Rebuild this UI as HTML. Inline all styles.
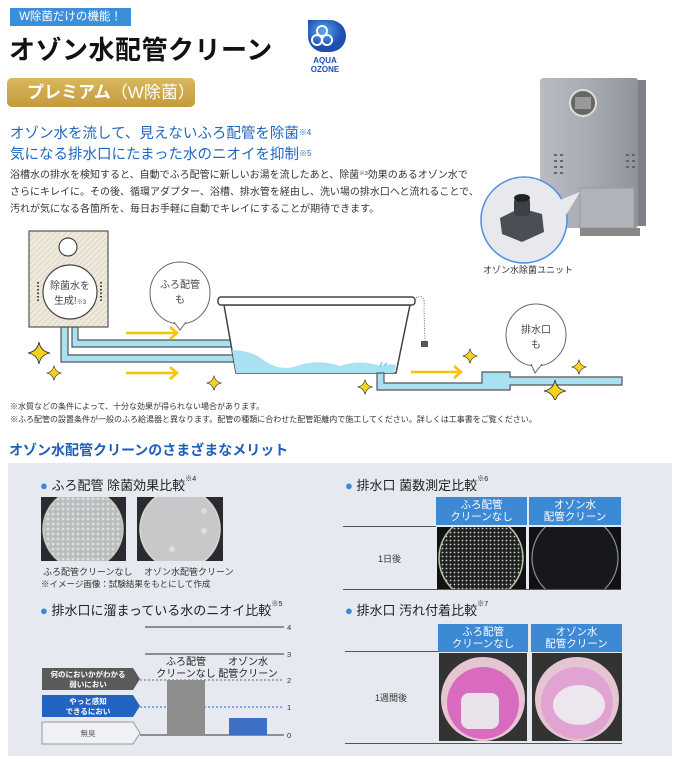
<!DOCTYPE html>
<html><head><meta charset="utf-8">
<style>
*{margin:0;padding:0;box-sizing:border-box}
body{width:680px;height:762px;background:#fff;position:relative;overflow:hidden;font-family:"Liberation Sans","Noto Sans CJK JP",sans-serif;color:#333}
.a{position:absolute;white-space:nowrap}
sup{font-size:0.55em;vertical-align:top;position:relative;top:-0.2em}
.hd{background:#3d89d3;color:#fff;font-size:10.5px;line-height:12px;text-align:center;display:flex;align-items:center;justify-content:center}
.dot{color:#3d89d3}
</style></head><body>
<div class="a" style="left:10px;top:8px;width:121px;height:18px;background:#3b8ed8;color:#fff;font-size:11.5px;line-height:18px;text-align:center">W除菌だけの機能！</div>
<div class="a" style="left:9px;top:30px;font-size:26px;font-weight:bold;color:#111;letter-spacing:0.5px">オゾン水配管クリーン</div>
<svg class="a" style="left:300px;top:16px" width="50" height="56">
<defs><radialGradient id="lg" cx="40%" cy="35%"><stop offset="0" stop-color="#5aa8f0"/><stop offset="1" stop-color="#1d4fb0"/></radialGradient></defs>
<path d="M8 4 H30 A16 16 0 0 1 30 36 H22 A16 16 0 0 1 8 20 Z" fill="url(#lg)"/>
<g fill="none" stroke="#fff" stroke-width="2"><circle cx="22" cy="15" r="5"/><circle cx="17" cy="24" r="5"/><circle cx="27" cy="24" r="5"/></g>
<text x="25" y="47" font-size="8" font-weight="bold" fill="#1d4fb0" text-anchor="middle" font-family="Liberation Sans">AQUA</text>
<text x="25" y="56" font-size="8" font-weight="bold" fill="#1d4fb0" text-anchor="middle" font-family="Liberation Sans">OZONE</text>
</svg>
<div class="a" style="left:7px;top:78px;width:188px;height:29px;border-radius:5px;background:linear-gradient(#d9b85e,#c49a3a);color:#fff;font-size:17px;font-weight:bold;line-height:29px;padding-left:20px">プレミアム<span style="font-weight:normal">（W除菌）</span></div>
<div class="a" style="left:10px;top:124px;font-size:14.5px;color:#2067c4;line-height:21px">オゾン水を流して、見えないふろ配管を除菌<sup>※4</sup><br>気になる排水口にたまった水のニオイを抑制<sup>※5</sup></div>
<div class="a" style="left:10px;top:167px;font-size:10px;line-height:17px;color:#333">浴槽水の排水を検知すると、自動でふろ配管に新しいお湯を流したあと、除菌<sup>※3</sup>効果のあるオゾン水で<br>さらにキレイに。その後、循環アダプター、浴槽、排水管を経由し、洗い場の排水口へと流れることで、<br>汚れが気になる各箇所を、毎日お手軽に自動でキレイにすることが期待できます。</div>

<svg class="a" style="left:480px;top:70px" width="200" height="200">
<defs><linearGradient id="hg" x1="0" x2="1"><stop offset="0" stop-color="#b9bcc2"/><stop offset=".5" stop-color="#a7abb2"/><stop offset="1" stop-color="#8e939a"/></linearGradient></defs>
<rect x="60" y="8" width="98" height="150" rx="3" fill="url(#hg)"/>
<rect x="158" y="10" width="8" height="146" fill="#7d8187"/>
<circle cx="103" cy="33" r="13" fill="#666" stroke="#ddd" stroke-width="2"/>
<rect x="95" y="27" width="16" height="12" fill="#999"/>
<rect x="100" y="118" width="54" height="40" fill="#b0b3b9" stroke="#999"/>
<g fill="#666"><rect x="74" y="84" width="3" height="2"/><rect x="80" y="84" width="3" height="2"/><rect x="74" y="90" width="3" height="2"/><rect x="80" y="90" width="3" height="2"/><rect x="74" y="96" width="3" height="2"/><rect x="80" y="96" width="3" height="2"/><rect x="74" y="102" width="3" height="2"/><rect x="80" y="102" width="3" height="2"/>
<rect x="146" y="84" width="3" height="2"/><rect x="152" y="84" width="3" height="2"/><rect x="146" y="90" width="3" height="2"/><rect x="152" y="90" width="3" height="2"/><rect x="146" y="96" width="3" height="2"/><rect x="152" y="96" width="3" height="2"/></g>
<rect x="100" y="158" width="60" height="8" fill="#888"/>
<circle cx="44" cy="150" r="43" fill="#e8e9ec" stroke="#4a90e2" stroke-width="1.5"/>
<path d="M80 130 L100 122 L86 145Z" fill="#e8e9ec"/>
<path d="M20 148 L40 138 L62 144 L64 162 L42 172 L22 164Z" fill="#4b4f55"/>
<rect x="34" y="128" width="16" height="18" rx="4" fill="#3d4147"/>
<ellipse cx="42" cy="128" rx="8" ry="4" fill="#222"/>
</svg>
<div class="a" style="left:483px;top:263px;font-size:9px;color:#333">オゾン水除菌ユニット</div>

<svg class="a" style="left:0;top:225px" width="680" height="175">
<defs><pattern id="hat" width="4" height="4" patternUnits="userSpaceOnUse" patternTransform="rotate(45)"><rect width="4" height="4" fill="#efe9dc"/><line x1="0" y1="0" x2="0" y2="4" stroke="#cfc6b3" stroke-width="1"/></pattern>
<g id="sp"><path d="M0 -10 Q1.5 -1.5 10 0 Q1.5 1.5 0 10 Q-1.5 1.5 -10 0 Q-1.5 -1.5 0 -10Z" fill="#f7d21a" stroke="#333" stroke-width="0.8"/></g></defs>
<path d="M61 102 V137 H235 V130 H68 V102Z" fill="#a9e1f3" stroke="#555" stroke-width="1.2"/>
<path d="M72 102 V122 H232 V115 H78 V102Z" fill="#a9e1f3" stroke="#555" stroke-width="1.2"/>
<rect x="29" y="6" width="79" height="96" fill="url(#hat)" stroke="#555" stroke-width="1.2"/>
<circle cx="68" cy="22" r="9" fill="#fff" stroke="#444" stroke-width="1.2"/>
<circle cx="70" cy="67" r="27" fill="#fff" stroke="#444" stroke-width="1.2"/>
<line x1="38" y1="57" x2="38" y2="78" stroke="#444" stroke-width="2" stroke-dasharray="1.5 2"/>
<line x1="101" y1="57" x2="101" y2="78" stroke="#444" stroke-width="2" stroke-dasharray="1.5 2"/>
<text x="70" y="64" font-size="10" text-anchor="middle" fill="#444">除菌水を</text>
<text x="70" y="79" font-size="10" text-anchor="middle" fill="#444">生成!<tspan font-size="6">※3</tspan></text>
<g stroke="#f5c400" stroke-width="2.5" fill="none"><path d="M126 108 H176 M170 102 L177 108 L170 114"/><path d="M126 148 H176 M170 142 L177 148 L170 154"/><path d="M411 147 H460 M454 141 L461 147 L454 153"/></g>
<ellipse cx="180" cy="68" rx="30" ry="31" fill="#fff" stroke="#666" stroke-width="1"/>
<path d="M174 97 L180 105 L186 97" fill="#fff" stroke="#666" stroke-width="1"/>
<line x1="175" y1="97" x2="185" y2="97" stroke="#fff" stroke-width="2"/>
<text x="180" y="63" font-size="10" text-anchor="middle" fill="#444">ふろ配管</text>
<text x="180" y="78" font-size="10" text-anchor="middle" fill="#444">も</text>
<path d="M224 80 L236 148 L396 148 L410 80Z" fill="#fff" stroke="#444" stroke-width="1.5"/>
<path d="M232 125 Q250 125 262 134 Q280 148 300 140 Q320 134 340 141 Q360 134 380 141 Q392 138 396 140 L394 148 L236 148Z" fill="#a9e1f3"/>
<rect x="218" y="72" width="197" height="8" rx="3" fill="#fff" stroke="#444" stroke-width="1.5"/>
<path d="M380 142 l2 -5 M384 141 l3 -3" stroke="#7cc8e6" stroke-width="1.5"/>
<path d="M414 74 Q426 66 424 84 L425 116" fill="none" stroke="#666" stroke-width="1" stroke-dasharray="1 1.5"/>
<rect x="421" y="116" width="7" height="6" fill="#555"/>
<path d="M377 148 H384 V158 H482 V147 H510 V152 H622 V160 H510 V165 H482 H377 Z" fill="#a9e1f3" stroke="#555" stroke-width="1.2"/>
<ellipse cx="536" cy="110" rx="30" ry="31" fill="#fff" stroke="#666" stroke-width="1"/>
<path d="M531 139 L535 148 L542 139" fill="#fff" stroke="#666" stroke-width="1"/>
<line x1="532" y1="139" x2="541" y2="139" stroke="#fff" stroke-width="2"/>
<text x="536" y="108" font-size="10" text-anchor="middle" fill="#444">排水口</text>
<text x="536" y="123" font-size="10" text-anchor="middle" fill="#444">も</text>
<use href="#sp" transform="translate(39,128) scale(1.1)"/>
<use href="#sp" transform="translate(54,148) scale(0.75)"/>
<use href="#sp" transform="translate(214,158) scale(0.75)"/>
<use href="#sp" transform="translate(365,162) scale(0.75)"/>
<use href="#sp" transform="translate(470,131) scale(0.75)"/>
<use href="#sp" transform="translate(579,142) scale(0.75)"/>
<use href="#sp" transform="translate(555,166) scale(1.1)"/>
</svg>
<div class="a" style="left:10px;top:401px;font-size:8px;line-height:12.5px;color:#333">※水質などの条件によって、十分な効果が得られない場合があります。<br>※ふろ配管の設置条件が一般のふろ給湯器と異なります。配管の種類に合わせた配管距離内で施工してください。詳しくは工事書をご覧ください。</div>
<div class="a" style="left:9px;top:440px;font-size:14px;font-weight:bold;color:#1e5fb8">オゾン水配管クリーンのさまざまなメリット</div>

<div class="a" style="left:8px;top:463px;width:664px;height:293px;background:#e6e9ef"></div>
<div class="a" style="left:40px;top:475px;font-size:13px;color:#222"><span class="dot">●</span> ふろ配管 除菌効果比較<sup>※4</sup></div>
<svg class="a" style="left:41px;top:497px" width="185" height="64">
<defs><pattern id="sp1" width="5" height="5" patternUnits="userSpaceOnUse"><rect width="5" height="5" fill="#b9bdbd"/><circle cx="2" cy="2" r="1.4" fill="#dde0de"/></pattern></defs>
<rect width="85" height="64" fill="#2a2b30"/><circle cx="42" cy="32" r="40" fill="url(#sp1)" stroke="#c8c6b6" stroke-width="1.5"/>
<rect x="96" width="86" height="64" fill="#2a2b30"/><circle cx="139" cy="32" r="40" fill="#c6c8ca" stroke="#d8d8d0" stroke-width="1.5"/>
<circle cx="163" cy="14" r="3" fill="#ddd"/><circle cx="163" cy="34" r="3" fill="#ddd"/><circle cx="131" cy="52" r="3" fill="#ddd"/>
</svg>
<div class="a" style="left:43px;top:565px;font-size:9px;color:#333">ふろ配管クリーンなし　 オゾン水配管クリーン</div>
<div class="a" style="left:41px;top:578px;font-size:8.5px;color:#333">※イメージ画像：試験結果をもとにして作成</div>

<div class="a" style="left:40px;top:600px;font-size:13px;color:#222"><span class="dot">●</span> 排水口に溜まっている水のニオイ比較<sup>※5</sup></div>
<svg class="a" style="left:40px;top:620px" width="260" height="130">
<g stroke="#333" stroke-width="1"><line x1="105" y1="7" x2="244" y2="7"/><line x1="105" y1="34" x2="244" y2="34"/><line x1="100" y1="115" x2="244" y2="115"/></g>
<line x1="100" y1="60" x2="244" y2="60" stroke="#666" stroke-dasharray="2 2"/>
<line x1="100" y1="87" x2="244" y2="87" stroke="#2b6cc4" stroke-dasharray="2 2"/>
<g font-size="7.5" fill="#333"><text x="247" y="10">4</text><text x="247" y="37">3</text><text x="247" y="63">2</text><text x="247" y="90">1</text><text x="247" y="118">0</text></g>
<rect x="127" y="60" width="38" height="55" fill="#8e8e8e"/>
<rect x="189" y="98" width="38" height="17" fill="#3d6fc7"/>
<g font-size="10" fill="#222" text-anchor="middle"><text x="146" y="45">ふろ配管</text><text x="146" y="57">クリーンなし</text><text x="208" y="45">オゾン水</text><text x="208" y="57">配管クリーン</text></g>
<path d="M2 48 H93 L100 59 L93 70 H2Z" fill="#5a5a5a"/>
<path d="M2 75 H93 L100 86 L93 97 H2Z" fill="#2364c2"/>
<path d="M2 102 H93 L100 113 L93 124 H2Z" fill="#f0f1f4" stroke="#999"/>
<g font-size="7.5" fill="#fff" text-anchor="middle" font-weight="bold"><text x="48" y="57">何のにおいかがわかる</text><text x="48" y="67">弱いにおい</text><text x="48" y="84">やっと感知</text><text x="48" y="94">できるにおい</text></g>
<text x="48" y="116" font-size="7.5" fill="#555" text-anchor="middle">無臭</text>
</svg>

<div class="a" style="left:345px;top:475px;font-size:13px;color:#222"><span class="dot">●</span> 排水口 菌数測定比較<sup>※6</sup></div>
<div class="a hd" style="left:436px;top:497px;width:91px;height:28px">ふろ配管<br>クリーンなし</div>
<div class="a hd" style="left:529px;top:497px;width:92px;height:28px">オゾン水<br>配管クリーン</div>
<div class="a" style="left:343px;top:526px;width:93px;height:1px;background:#555"></div>
<div class="a" style="left:343px;top:589px;width:278px;height:1px;background:#555"></div>
<div class="a" style="left:378px;top:552px;font-size:9px">1日後</div>
<svg class="a" style="left:437px;top:527px" width="185" height="62">
<defs><pattern id="sp2" width="4" height="4" patternUnits="userSpaceOnUse"><rect width="4" height="4" fill="#222"/><circle cx="1.5" cy="1.5" r="0.9" fill="#c9cfc2"/></pattern></defs>
<rect width="89" height="62" fill="#111"/><circle cx="44" cy="31" r="42" fill="url(#sp2)" stroke="#b8c4a8" stroke-width="1.5"/>
<rect x="92" width="92" height="62" fill="#111"/><circle cx="138" cy="31" r="43" fill="#17181c" stroke="#8a8f92" stroke-width="1.2"/>
</svg>

<div class="a" style="left:345px;top:600px;font-size:13px;color:#222"><span class="dot">●</span> 排水口 汚れ付着比較<sup>※7</sup></div>
<div class="a hd" style="left:438px;top:624px;width:90px;height:28px">ふろ配管<br>クリーンなし</div>
<div class="a hd" style="left:531px;top:624px;width:91px;height:28px">オゾン水<br>配管クリーン</div>
<div class="a" style="left:345px;top:651px;width:93px;height:1px;background:#555"></div>
<div class="a" style="left:345px;top:743px;width:277px;height:1px;background:#555"></div>
<div class="a" style="left:375px;top:691px;font-size:9px">1週間後</div>
<svg class="a" style="left:439px;top:653px" width="184" height="88">
<rect width="88" height="88" fill="#333"/><rect x="93" width="90" height="88" fill="#333"/>
<circle cx="44" cy="46" r="42" fill="#e6c5d3"/><circle cx="44" cy="50" r="36" fill="#d86ac0"/><rect x="22" y="40" width="38" height="36" rx="8" fill="#e9e2ea"/>
<circle cx="138" cy="46" r="42" fill="#e6c5d3"/><circle cx="138" cy="50" r="36" fill="#e0a3d2"/><ellipse cx="140" cy="52" rx="26" ry="20" fill="#ece6ee"/>
</svg>
</body></html>
